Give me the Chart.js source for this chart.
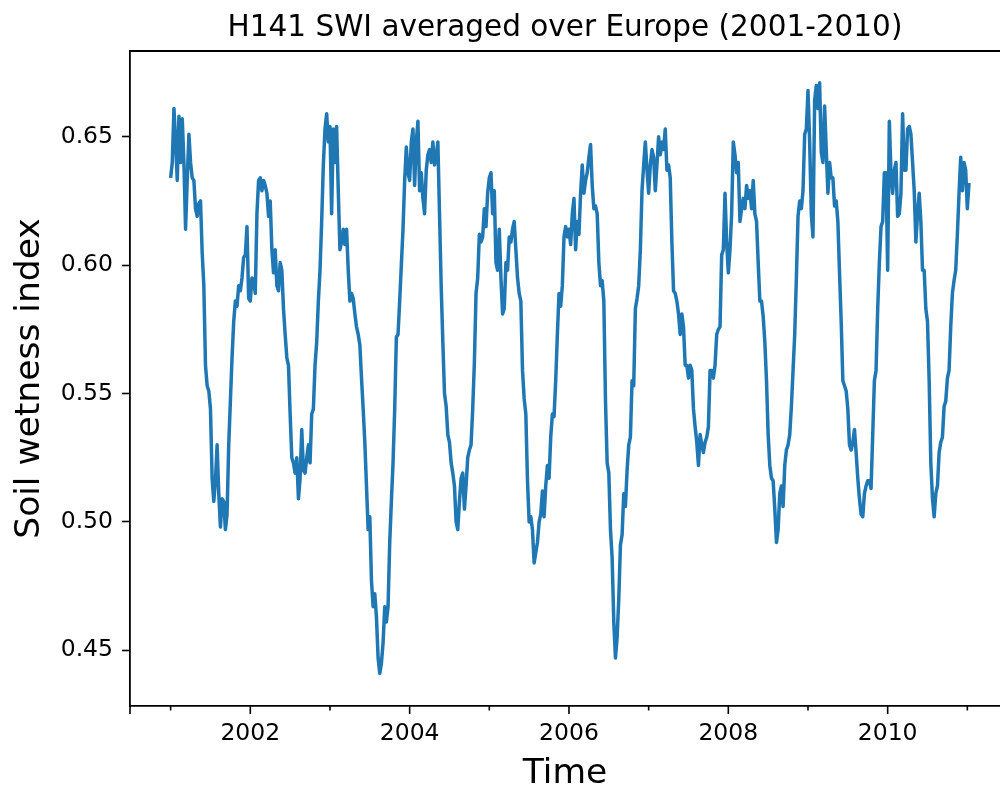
<!DOCTYPE html>
<html>
<head>
<meta charset="utf-8">
<title>H141 SWI averaged over Europe (2001-2010)</title>
<script src="https://cdn.jsdelivr.net/npm/chart.js@4.4.1/dist/chart.umd.min.js"></script>
<style>
  html, body { margin: 0; padding: 0; background: #fff; }
  #swi { display: block; }
</style>
</head>
<body>
<canvas id="swi" width="1000" height="795"></canvas>
<script>
// roughly weekly values (48 per year)
const years = [2001, 2002, 2003, 2004, 2005, 2006, 2007, 2008, 2009, 2010, 2011];
const samplesPerYear = 48;

const swi2001 = [0.634, 0.640, 0.661, 0.648, 0.633, 0.658, 0.640, 0.657, 0.640, 0.614, 0.633, 0.651, 0.640, 0.634, 0.633, 0.622, 0.619, 0.624, 0.625, 0.605, 0.592, 0.561, 0.553, 0.551, 0.544, 0.517, 0.508, 0.516, 0.530, 0.511, 0.498, 0.509, 0.508, 0.497, 0.503, 0.530, 0.547, 0.564, 0.578, 0.586, 0.584, 0.592, 0.590, 0.595, 0.603, 0.604, 0.615, 0.587];
const swi2002 = [0.586, 0.595, 0.594, 0.589, 0.620, 0.633, 0.634, 0.629, 0.633, 0.631, 0.628, 0.619, 0.625, 0.606, 0.597, 0.606, 0.592, 0.590, 0.601, 0.598, 0.583, 0.573, 0.564, 0.561, 0.542, 0.525, 0.523, 0.519, 0.525, 0.509, 0.517, 0.536, 0.520, 0.519, 0.525, 0.530, 0.523, 0.542, 0.544, 0.561, 0.570, 0.586, 0.598, 0.617, 0.639, 0.653, 0.659, 0.648];
const swi2003 = [0.654, 0.620, 0.653, 0.640, 0.654, 0.629, 0.606, 0.609, 0.614, 0.608, 0.614, 0.598, 0.586, 0.589, 0.587, 0.581, 0.576, 0.573, 0.569, 0.556, 0.544, 0.531, 0.514, 0.497, 0.502, 0.477, 0.467, 0.472, 0.463, 0.447, 0.441, 0.445, 0.453, 0.467, 0.461, 0.467, 0.492, 0.508, 0.523, 0.544, 0.572, 0.573, 0.586, 0.600, 0.614, 0.633, 0.646, 0.636];
const swi2004 = [0.633, 0.648, 0.653, 0.631, 0.648, 0.656, 0.629, 0.636, 0.626, 0.620, 0.637, 0.643, 0.645, 0.640, 0.648, 0.639, 0.642, 0.648, 0.620, 0.592, 0.570, 0.550, 0.545, 0.534, 0.531, 0.523, 0.519, 0.514, 0.500, 0.497, 0.508, 0.517, 0.519, 0.505, 0.514, 0.525, 0.528, 0.530, 0.544, 0.562, 0.589, 0.595, 0.612, 0.609, 0.611, 0.622, 0.615, 0.628];
const swi2005 = [0.634, 0.636, 0.620, 0.629, 0.601, 0.598, 0.614, 0.595, 0.581, 0.583, 0.601, 0.598, 0.611, 0.609, 0.614, 0.617, 0.606, 0.595, 0.589, 0.586, 0.559, 0.548, 0.542, 0.516, 0.500, 0.502, 0.497, 0.484, 0.488, 0.492, 0.500, 0.503, 0.512, 0.502, 0.514, 0.522, 0.517, 0.533, 0.542, 0.541, 0.555, 0.573, 0.589, 0.584, 0.592, 0.611, 0.615, 0.611];
const swi2006 = [0.614, 0.608, 0.620, 0.626, 0.606, 0.617, 0.612, 0.628, 0.639, 0.628, 0.633, 0.636, 0.642, 0.647, 0.631, 0.622, 0.623, 0.620, 0.601, 0.592, 0.594, 0.586, 0.547, 0.523, 0.519, 0.497, 0.486, 0.461, 0.447, 0.455, 0.470, 0.491, 0.495, 0.511, 0.506, 0.520, 0.530, 0.533, 0.555, 0.553, 0.583, 0.587, 0.592, 0.606, 0.629, 0.639, 0.648, 0.637];
const swi2007 = [0.628, 0.639, 0.645, 0.642, 0.629, 0.639, 0.650, 0.643, 0.648, 0.645, 0.653, 0.637, 0.639, 0.634, 0.609, 0.590, 0.589, 0.586, 0.581, 0.573, 0.581, 0.576, 0.561, 0.561, 0.556, 0.561, 0.559, 0.544, 0.537, 0.531, 0.522, 0.534, 0.530, 0.527, 0.531, 0.533, 0.537, 0.559, 0.559, 0.556, 0.561, 0.573, 0.575, 0.576, 0.604, 0.606, 0.628, 0.609];
const swi2008 = [0.597, 0.606, 0.620, 0.648, 0.643, 0.636, 0.640, 0.617, 0.622, 0.626, 0.622, 0.631, 0.626, 0.629, 0.622, 0.633, 0.620, 0.617, 0.601, 0.586, 0.586, 0.580, 0.570, 0.555, 0.534, 0.522, 0.517, 0.516, 0.505, 0.492, 0.497, 0.511, 0.514, 0.506, 0.522, 0.528, 0.530, 0.534, 0.545, 0.559, 0.573, 0.595, 0.619, 0.625, 0.622, 0.629, 0.651, 0.653];
const swi2009 = [0.668, 0.648, 0.620, 0.611, 0.664, 0.670, 0.661, 0.671, 0.644, 0.640, 0.662, 0.645, 0.628, 0.640, 0.634, 0.634, 0.623, 0.625, 0.617, 0.597, 0.578, 0.555, 0.553, 0.551, 0.544, 0.530, 0.528, 0.531, 0.536, 0.527, 0.517, 0.509, 0.503, 0.502, 0.511, 0.514, 0.516, 0.516, 0.513, 0.534, 0.555, 0.559, 0.583, 0.601, 0.615, 0.617, 0.636, 0.636];
const swi2010 = [0.598, 0.656, 0.636, 0.628, 0.637, 0.640, 0.619, 0.620, 0.628, 0.659, 0.637, 0.637, 0.653, 0.654, 0.651, 0.640, 0.629, 0.609, 0.620, 0.628, 0.617, 0.598, 0.598, 0.583, 0.578, 0.555, 0.523, 0.509, 0.502, 0.511, 0.514, 0.527, 0.531, 0.533, 0.545, 0.547, 0.556, 0.559, 0.576, 0.589, 0.594, 0.598, 0.612, 0.628, 0.642, 0.629, 0.640, 0.637];
const swi2011 = [0.622, 0.632];

const swiByYear = [swi2001, swi2002, swi2003, swi2004, swi2005, swi2006, swi2007, swi2008, swi2009, swi2010, swi2011];

// axis range and ticks
const xMin = 2000.49, xMax = 2011.41;
const yMin = 0.4283, yMax = 0.6834;
const xLabels = [2002, 2004, 2006, 2008, 2010];
const yTicks = [0.45, 0.50, 0.55, 0.60, 0.65];

const points = [];
swiByYear.forEach((vals, k) => {
    vals.forEach((v, i) => points.push({ x: years[k] + i / samplesPerYear, y: v }));
});

const font = 'DejaVu Sans';

// top spine + matplotlib style major/minor x ticks
const axisFrame = {
    id: 'axisFrame',
    afterDraw(chart) {
        const { ctx, chartArea } = chart;
        const x = chart.scales.x;
        ctx.save();
        ctx.strokeStyle = '#000';
        ctx.lineWidth = 1.8;
        ctx.beginPath();
        ctx.moveTo(chartArea.left - 0.9, chartArea.top);
        ctx.lineTo(chartArea.right, chartArea.top);
        ctx.stroke();

        ctx.lineWidth = 1.6;
        x.ticks.forEach(t => {
            const px = x.getPixelForValue(t.value);
            const len = (t.value === x.min || xLabels.includes(t.value)) ? 8 : 4.5;
            ctx.beginPath();
            ctx.moveTo(px, chartArea.bottom);
            ctx.lineTo(px, chartArea.bottom + len);
            ctx.stroke();
        });
        ctx.restore();
    }
};

new Chart(document.getElementById('swi'), {
    type: 'line',
    data: {
        datasets: [{
            data: points,
            borderColor: '#1f77b4',
            borderWidth: 3.5,
            borderJoinStyle: 'round',
            pointRadius: 0,
            tension: 0,
            fill: false
        }]
    },
    options: {
        responsive: false,
        animation: false,
        layout: { padding: 0 },
        plugins: {
            legend: { display: false },
            tooltip: { enabled: false },
            title: {
                display: true,
                fullSize: false,
                text: 'H141 SWI averaged over Europe (2001-2010)',
                color: '#000',
                font: { family: font, size: 29.5, weight: 'normal', lineHeight: 1.2 },
                padding: { top: 11, bottom: 4.6 }
            }
        },
        scales: {
            x: {
                type: 'linear',
                min: xMin,
                max: xMax,
                afterFit: (scale) => { scale.height = 89; },
                afterBuildTicks: (scale) => {
                    scale.ticks = [{ value: xMin }].concat(years.map(y => ({ value: y })));
                },
                ticks: {
                    color: '#000',
                    font: { family: font, size: 23.5, lineHeight: 1.2 },
                    padding: 14,
                    maxRotation: 0,
                    autoSkip: false,
                    callback: (v) => xLabels.includes(v) ? String(v) : ''
                },
                grid: { drawOnChartArea: false, drawTicks: false },
                border: { color: '#000', width: 1.8 },
                title: {
                    display: true,
                    text: 'Time',
                    color: '#000',
                    font: { family: font, size: 34.5, lineHeight: 1 },
                    padding: { top: 0, bottom: 4 }
                }
            },
            y: {
                min: yMin,
                max: yMax,
                afterFit: (scale) => { scale.width = 130; },
                afterBuildTicks: (scale) => {
                    scale.ticks = yTicks.map(v => ({ value: v }));
                },
                ticks: {
                    color: '#000',
                    font: { family: font, size: 23.5 },
                    padding: 9,
                    callback: (v) => v.toFixed(2)
                },
                grid: {
                    drawOnChartArea: false,
                    drawTicks: true,
                    tickLength: 8,
                    tickColor: '#000',
                    tickWidth: 1.6
                },
                border: { color: '#000', width: 1.8 },
                title: {
                    display: true,
                    text: 'Soil wetness index',
                    color: '#000',
                    font: { family: font, size: 34.5, lineHeight: 1 },
                    padding: { top: 13, bottom: 0 }
                }
            }
        }
    },
    plugins: [axisFrame]
});
</script>
</body>
</html>
